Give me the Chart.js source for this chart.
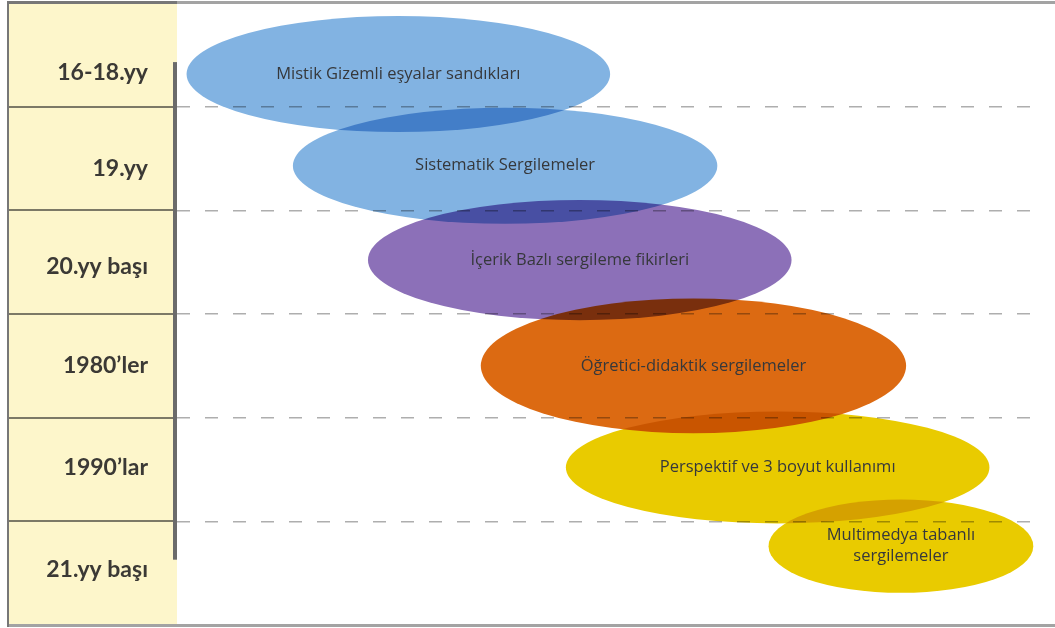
<!DOCTYPE html>
<html>
<head>
<meta charset="utf-8">
<script src="https://cdn.jsdelivr.net/npm/chart.js@4/dist/chart.umd.min.js"></script>
<style>
  html, body { margin: 0; padding: 0; background: #fff; }
  #wrap { width: 1055px; height: 628px; position: relative; }
</style>
</head>
<body>
<div id="wrap"><canvas id="timeline"></canvas></div>
<script>
// --- satır etiketleri (dönemler) ---
const rowLabels = ['16-18.yy', '19.yy', '20.yy başı', '1980’ler', '1990’lar', '21.yy başı'];
const labelRows = [0.17, 1.1, 2.04, 3.0, 3.98, 4.97];

// --- sergileme yaklaşımları (elipsler) ---
const stageNames = [
    'Mistik Gizemli eşyalar sandıkları',
    'Sistematik Sergilemeler',
    'İçerik Bazlı sergileme fikirleri',
    'Öğretici-didaktik sergilemeler',
    'Perspektif ve 3 boyut kullanımı',
    ['Multimedya tabanlı', 'sergilemeler']
];
const stageX = [25.5, 37.8, 46.4, 59.5, 69.2, 83.4];      // merkez (yatay)
const stageRow = [0.185, 1.07, 1.98, 3.0, 3.98, 4.74];    // merkez (satır)
const stageSpan = [48.8, 48.9, 48.8, 49.0, 48.8, 30.5];   // yatay genişlik
const stageDepth = [1.12, 1.12, 1.16, 1.3, 1.08, 0.9];    // dikey yükseklik (satır)

const stageColors = ['#82b3e2', '#82b3e2', '#8c70b8', '#dc6a12', '#e9cb00', '#e9cb00'];

const rowBounds = rowLabels.slice(1).map((_, i) => i + 0.5);

const timelinePlugin = {
    id: 'timeline',
    beforeDraw(chart) {
        const { ctx, chartArea: a, scales: { y } } = chart;
        ctx.save();
        // sol panel
        ctx.fillStyle = '#fdf6cb';
        ctx.fillRect(9, a.top, a.left - 9, a.bottom - a.top);
        ctx.strokeStyle = '#7c7966';
        ctx.lineWidth = 2;
        rowBounds.forEach(v => {
            const py = Math.round(y.getPixelForValue(v));
            ctx.beginPath();
            ctx.moveTo(9, py);
            ctx.lineTo(a.left - 2, py);
            ctx.stroke();
        });
        ctx.restore();
    },
    afterDatasetsDraw(chart) {
        const { ctx, scales: { x, y } } = chart;
        const meta = chart.getDatasetMeta(0);
        ctx.save();
        ctx.globalCompositeOperation = 'multiply';
        meta.data.forEach((pt, i) => {
            const rx = Math.abs(x.getPixelForValue(stageX[i] + stageSpan[i] / 2) - pt.x);
            const ry = Math.abs(y.getPixelForValue(stageRow[i] + stageDepth[i] / 2) - pt.y);
            ctx.fillStyle = stageColors[i];
            ctx.beginPath();
            ctx.ellipse(pt.x, pt.y, rx, ry, 0, 0, Math.PI * 2);
            ctx.fill();
        });
        ctx.globalCompositeOperation = 'source-over';
        ctx.fillStyle = '#36383b';
        ctx.font = '16.5px "Open Sans"';
        ctx.textAlign = 'center';
        ctx.textBaseline = 'middle';
        meta.data.forEach((pt, i) => {
            const lines = [].concat(stageNames[i]);
            const lh = 21;
            lines.forEach((t, k) => {
                ctx.fillText(t, pt.x, pt.y + (k - (lines.length - 1) / 2) * lh);
            });
        });
        ctx.restore();
    },
    afterDraw(chart) {
        const { ctx, chartArea: a, scales: { y } } = chart;
        ctx.save();
        // dikey çubuk
        ctx.fillStyle = '#6b6b6b';
        const top = y.getPixelForValue(0.07), bot = y.getPixelForValue(4.87);
        ctx.fillRect(a.left - 4, top, 4, bot - top);
        // çerçeve
        ctx.fillStyle = '#a3a3a3';
        ctx.fillRect(8, a.top - 2, chart.width - 8, 3);
        ctx.fillRect(8, a.bottom - 1, chart.width - 8, 3);
        ctx.fillStyle = '#777';
        ctx.fillRect(8, a.top - 2, a.left - 8, 3);
        ctx.fillRect(7, a.top - 2, 2, a.bottom - a.top + 4);
        ctx.restore();
    }
};

const ctx = document.getElementById('timeline').getContext('2d');
const chart = new Chart(ctx, {
    type: 'scatter',
    data: {
        datasets: [{
            data: stageX.map((v, i) => ({ x: v, y: stageRow[i] })),
            pointRadius: 0,
            pointHoverRadius: 0
        }]
    },
    options: {
        responsive: true,
        maintainAspectRatio: false,
        devicePixelRatio: 1,
        animation: false,
        events: [],
        layout: { padding: { left: 9, right: 10, top: 3, bottom: 3 } },
        plugins: { legend: { display: false }, tooltip: { enabled: false } },
        scales: {
            x: { type: 'linear', min: 0, max: 100, display: false },
            y: {
                type: 'linear',
                min: -0.5,
                max: 5.5,
                reverse: true,
                z: 1,
                afterBuildTicks: (scale) => {
                    scale.ticks = labelRows.concat(rowBounds)
                        .sort((a, b) => a - b)
                        .map(v => ({ value: v }));
                },
                afterFit: (scale) => {
                    scale.width = 168;
                    scale.paddingTop = 0;
                    scale.paddingBottom = 0;
                },
                border: { display: false, dash: [13, 15] },
                grid: {
                    drawTicks: false,
                    lineWidth: 1.5,
                    color: (c) => rowBounds.includes(c.tick && c.tick.value) ? 'rgba(120,120,120,0.6)' : 'rgba(0,0,0,0)'
                },
                ticks: {
                    autoSkip: false,
                    padding: 29,
                    color: '#3b3935',
                    font: { family: 'Lato', size: 23, weight: 'bold' },
                    callback: (value) => {
                        const i = labelRows.indexOf(value);
                        return i >= 0 ? rowLabels[i] : '';
                    }
                }
            }
        }
    },
    plugins: [timelinePlugin]
});
</script>
</body>
</html>
